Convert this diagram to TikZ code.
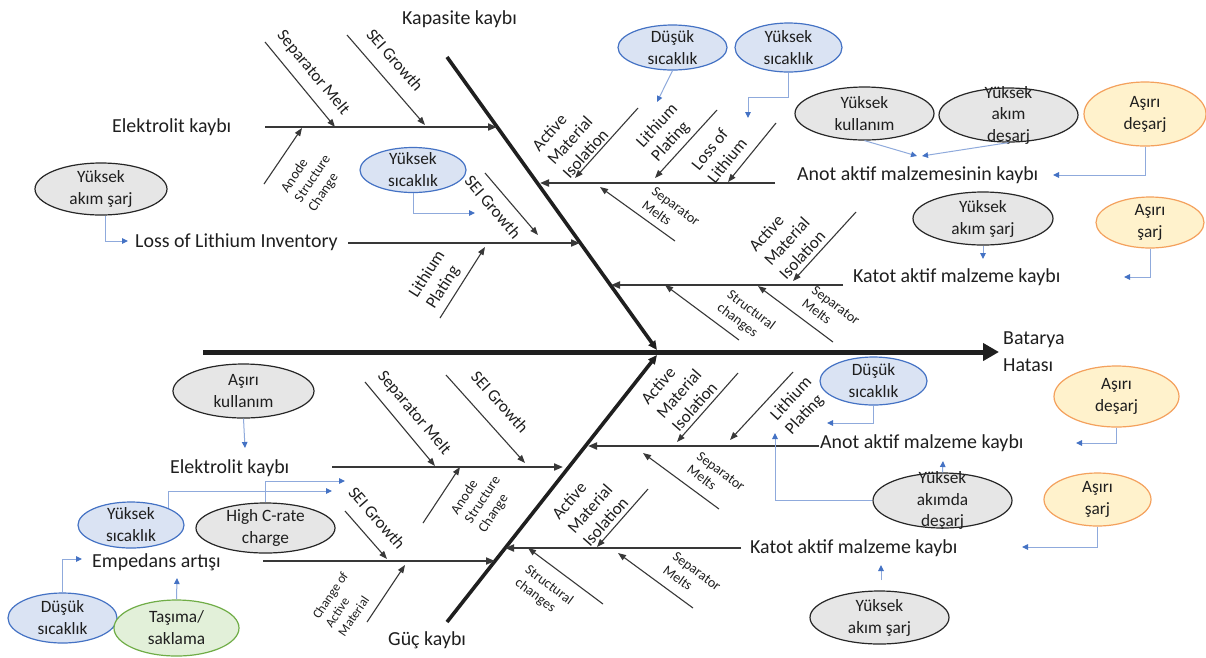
\documentclass[tikz,border=0pt]{standalone}
\usepackage{fontspec}
\setmainfont{Carlito}
\usetikzlibrary{arrows.meta,shapes.geometric}

\definecolor{ink}{HTML}{1F1F1F}
\definecolor{ribc}{HTML}{383838}
\definecolor{linkc}{HTML}{8FAADC}
\definecolor{linkhead}{HTML}{4472C4}
\definecolor{bluefill}{HTML}{DAE3F3}
\definecolor{blueline}{HTML}{4472C4}
\definecolor{grayfill}{HTML}{E6E6E6}
\definecolor{grayline}{HTML}{262626}
\definecolor{orfill}{HTML}{FFF2CC}
\definecolor{orline}{HTML}{F4A15D}
\definecolor{grfill}{HTML}{E2F0D9}
\definecolor{grline}{HTML}{70AD47}

\tikzset{
  head/.style={font=\fontsize{19.9}{27}\selectfont, inner sep=0pt, text=ink},
  cause/.style={font=\fontsize{17}{20.5}\selectfont, inner sep=0pt, align=left, text=ink},
  minor/.style={font=\fontsize{14}{16.5}\selectfont, inner sep=0pt, align=left, text=ink},
  tinytxt/.style={font=\fontsize{13}{15.5}\selectfont, inner sep=0pt, align=left, text=ink},
  spine/.style={line width=5pt, draw=ink, -{Triangle[length=16pt,width=17pt]}},
  bone/.style={line width=3.6pt, draw=ink, -{Triangle[length=9pt,width=8pt]}},
  rib/.style={line width=1.9pt, draw=ribc, -{Triangle[length=9pt,width=7pt]}},
  twig/.style={line width=1.1pt, draw=ribc, -{Triangle[length=8pt,width=6pt]}},
  link/.style={line width=1pt, draw=linkc, -{Triangle[length=6pt,width=5.5pt,color=linkhead]}},
  bubble/.style={ellipse, inner sep=0pt, line width=1.2pt},
  cool/.style={bubble, fill=bluefill, draw=blueline},
  plain/.style={bubble, fill=grayfill, draw=grayline},
  warm/.style={bubble, fill=orfill, draw=orline},
  calm/.style={bubble, fill=grfill, draw=grline},
  btxt/.style={font=\fontsize{17.3}{22}\selectfont, align=center, text=ink, inner sep=0pt},
}

\begin{document}
\begin{tikzpicture}[x=1pt, y=-1pt]
\fill[white] (0,0) rectangle (1206,657);
\useasboundingbox (0,0) rectangle (1206,657);

% ---------- spine and the two main bones ----------
\coordinate (tail) at (203,352);
\coordinate (head) at (999,352);
\draw[spine] (tail) -- (head);
\node[head, anchor=west, align=left] (fail) at (1003,352) {Batarya\\Hatası};

\coordinate (capTop) at (447,57);
\coordinate (capJoin) at (657,350);
\draw[bone] (capTop) -- (capJoin);
\node[head, anchor=base west] (cap) at (402,24) {Kapasite kaybı};

\coordinate (powBot) at (447,622);
\coordinate (powJoin) at (657,355);
\draw[bone] (powBot) -- (powJoin);
\node[head, anchor=base west] (pow) at (388,645) {Güç kaybı};

% ---------- ribs ----------
\coordinate (r1a) at (265,127); \coordinate (r1b) at (497,127);
\coordinate (r2a) at (348,243); \coordinate (r2b) at (580,243);
\coordinate (r3a) at (775,183); \coordinate (r3b) at (540,183);
\coordinate (r4a) at (843,285); \coordinate (r4b) at (611,285);
\coordinate (r5a) at (332,467); \coordinate (r5b) at (563,467);
\coordinate (r6a) at (263,561); \coordinate (r6b) at (495,561);
\coordinate (r7a) at (819,446); \coordinate (r7b) at (588,446);
\coordinate (r8a) at (741,548); \coordinate (r8b) at (505,548);
\foreach \r in {1,...,8} { \draw[rib] (r\r a) -- (r\r b); }

\node[head, anchor=base west] (elk1) at (112,132) {Elektrolit kaybı};
\node[head, anchor=base west] (loli) at (135,247) {Loss of Lithium Inventory};
\node[head, anchor=base west] (anot1) at (797,180) {Anot aktif malzemesinin kaybı};
\node[head, anchor=base west] (kat1) at (853,282) {Katot aktif malzeme kaybı};
\node[head, anchor=base west] (elk2) at (170,473) {Elektrolit kaybı};
\node[head, anchor=base west] (emp) at (92,567) {Empedans artışı};
\node[head, anchor=base west] (anot2) at (820,448) {Anot aktif malzeme kaybı};
\node[head, anchor=base west] (kat2) at (750,553) {Katot aktif malzeme kaybı};

% ---------- twigs (sub causes) ----------
\coordinate (t1a) at (265,42);  \coordinate (t1b) at (335,127);
\coordinate (t2a) at (347,35);  \coordinate (t2b) at (425,125);
\coordinate (t3a) at (264,184); \coordinate (t3b) at (302,128);
\coordinate (t4a) at (485,173); \coordinate (t4b) at (538,235);
\coordinate (t5a) at (440,318); \coordinate (t5b) at (485,247);
\coordinate (t6a) at (638,108); \coordinate (t6b) at (575,178);
\coordinate (t7a) at (717,110); \coordinate (t7b) at (655,178);
\coordinate (t8a) at (776,123); \coordinate (t8b) at (728,182);
\coordinate (t9a) at (675,241); \coordinate (t9b) at (600,187);
\coordinate (t10a) at (856,212); \coordinate (t10b) at (793,281);
\coordinate (t11a) at (739,340); \coordinate (t11b) at (665,285);
\coordinate (t12a) at (833,342); \coordinate (t12b) at (758,286);
\coordinate (t13a) at (365,382); \coordinate (t13b) at (435,466);
\coordinate (t14a) at (446,375); \coordinate (t14b) at (525,463);
\coordinate (t15a) at (423,523); \coordinate (t15b) at (460,467);
\coordinate (t16a) at (345,511); \coordinate (t16b) at (387,559);
\coordinate (t17a) at (367,622); \coordinate (t17b) at (405,565);
\coordinate (t18a) at (738,373); \coordinate (t18b) at (677,442);
\coordinate (t19a) at (793,372); \coordinate (t19b) at (730,440);
\coordinate (t20a) at (719,509); \coordinate (t20b) at (643,453);
\coordinate (t21a) at (648,489); \coordinate (t21b) at (597,547);
\coordinate (t22a) at (603,604); \coordinate (t22b) at (528,548);
\coordinate (t23a) at (693,608); \coordinate (t23b) at (618,553);
\foreach \t in {1,...,23} { \draw[twig] (t\t a) -- (t\t b); }

% upper left
\node[cause, rotate=-50.5] (lSM1) at (313,73) {Separator Melt};
\node[cause, rotate=-49] (lSEI1) at (395,60) {SEI Growth};
\node[minor, rotate=56] (lASC1) at (313,179) {Anode\\Structure\\Change};
\node[cause, rotate=-49.5] (lSEI2) at (493,207) {SEI Growth};
\node[cause, rotate=57.5] (lLP1) at (436,280) {Lithium\\Plating};
% upper right
\node[cause, rotate=48] (lAMI1) at (570,140) {Active\\Material\\Isolation};
\node[cause, rotate=47.5] (lLP2) at (665,133) {Lithium\\Plating};
\node[cause, rotate=51] (lLoL) at (719,154) {Loss of\\Lithium};
\node[minor, rotate=-36] (lSMs1) at (671,213) {Separator\\Melts};
\node[cause, rotate=47.5] (lAMI2) at (787,241) {Active\\Material\\Isolation};
\node[minor, rotate=-36.5] (lSC1) at (746,317) {Structural\\changes};
\node[minor, rotate=-36.5] (lSMs2) at (831,312) {Separator\\Melts};
% lower left
\node[cause, rotate=-50] (lSM2) at (414,413) {Separator Melt};
\node[cause, rotate=-48] (lSEI3) at (500,402) {SEI Growth};
\node[minor, rotate=56.5] (lASC2) at (483,500) {Anode\\Structure\\Change};
\node[cause, rotate=-49] (lSEI4) at (377,518) {SEI Growth};
\node[tinytxt, rotate=56] (lCAM) at (343,604) {Change of\\Active\\Material};
% lower right
\node[cause, rotate=48.5] (lAMI3) at (679,393) {Active\\Material\\Isolation};
\node[cause, rotate=47] (lLP3) at (799,406) {Lithium\\Plating};
\node[minor, rotate=-36.5] (lSMs3) at (716,478) {Separator\\Melts};
\node[cause, rotate=48.5] (lAMI4) at (590,508) {Active\\Material\\Isolation};
\node[minor, rotate=-36.5] (lSC2) at (544,592) {Structural\\changes};
\node[minor, rotate=-36] (lSMs4) at (692,578) {Separator\\Melts};

% ---------- condition bubbles ----------
\node[cool, minimum width=106pt, minimum height=45pt, label={[btxt]center:Yüksek\\sıcaklık}] (ysU) at (413,170) {};
\node[cool, minimum width=109pt, minimum height=45pt, label={[btxt]center:Düşük\\sıcaklık}] (dsU) at (672.5,47.5) {};
\node[cool, minimum width=107pt, minimum height=49pt, label={[btxt]center:Yüksek\\sıcaklık}] (ysR) at (788.5,47.5) {};
\node[plain, minimum width=139pt, minimum height=53pt, label={[btxt]center:Yüksek\\kullanım}] (yk) at (864.5,113.5) {};
\node[plain, minimum width=139pt, minimum height=54pt, label={[btxt, font=\fontsize{17.3}{21.5}\selectfont]center:Yüksek\\akım\\deşarj}] (yad1) at (1008.5,115) {};
\node[warm, minimum width=122pt, minimum height=64pt, label={[btxt]center:Aşırı\\deşarj}] (adU) at (1145,114) {};
\node[plain, minimum width=132pt, minimum height=52pt, label={[btxt]center:Yüksek\\akım şarj}] (yas1) at (101,189) {};
\node[plain, minimum width=140pt, minimum height=53pt, label={[btxt]center:Yüksek\\akım şarj}] (yas2) at (983,218.5) {};
\node[warm, minimum width=108pt, minimum height=51pt, label={[btxt]center:Aşırı\\şarj}] (asU) at (1150,222.5) {};

\node[plain, minimum width=141pt, minimum height=54pt, label={[btxt]center:Aşırı\\kullanım}] (ak) at (243.5,391) {};
\node[cool, minimum width=106pt, minimum height=46pt, label={[btxt]center:Yüksek\\sıcaklık}] (ysL) at (131,525) {};
\node[plain, minimum width=139pt, minimum height=50pt, label={[btxt]center:High C-rate\\charge}] (hc) at (265.5,528) {};
\node[cool, minimum width=109pt, minimum height=50pt, label={[btxt]center:Düşük\\sıcaklık}] (dsL) at (62.5,618) {};
\node[calm, minimum width=125pt, minimum height=56pt, label={[btxt]center:Taşıma/\\saklama}] (ts) at (176.5,628) {};
\node[cool, minimum width=107pt, minimum height=48pt, label={[btxt]center:Düşük\\sıcaklık}] (dsR) at (873.5,381) {};
\node[warm, minimum width=125pt, minimum height=61pt, label={[btxt]center:Aşırı\\deşarj}] (adR) at (1116.5,396.5) {};
\node[plain, minimum width=139pt, minimum height=55pt, label={[btxt, font=\fontsize{17.3}{21.5}\selectfont]center:Yüksek\\akımda\\deşarj}] (yad2) at (942.5,500.5) {};
\node[warm, minimum width=107pt, minimum height=53pt, label={[btxt]center:Aşırı\\şarj}] (asR) at (1097.5,499.5) {};
\node[plain, minimum width=139pt, minimum height=53pt, label={[btxt]center:Yüksek\\akım şarj}] (yas3) at (879.5,617.5) {};

% ---------- bubble links ----------
\coordinate (k1) at (475,213);
\coordinate (k2) at (657,102);
\coordinate (k3) at (748,118);
\coordinate (k4) at (917,156);
\coordinate (k5) at (922,156);
\coordinate (k6) at (1053,175);
\coordinate (k7) at (128,241);
\coordinate (k8) at (983,259);
\coordinate (k9) at (1124,277);
\coordinate (k10) at (245,448);
\coordinate (k11) at (332,491);
\coordinate (k12) at (345,481);
\coordinate (k13) at (82,559);
\coordinate (k14) at (177,578);
\coordinate (k15) at (827,423);
\coordinate (k16) at (1076,443);
\coordinate (k17) at (943,461);
\coordinate (k18) at (775,433);
\coordinate (k19) at (1022,547);
\coordinate (k20a) at (881,580);
\coordinate (k20b) at (881,565);

\draw[link] (ysU.south) |- (k1);
\draw[link] (dsU.south) -- (k2);
\draw[link] (ysR.south) -- ++(0,25) -| (k3);
\draw[link] (yk.south) -- (k4);
\draw[link] (yad1.south) -- (k5);
\draw[link] (adU.south) |- (k6);
\draw[link] ([xshift=4pt]yas1.south) |- (k7);
\draw[link] (yas2.south) -- (k8);
\draw[link] (asU.south) |- (k9);
\draw[link] (ak.south) -- (k10);
\draw[link] (ysL.north east) |- (k11);
\draw[link] (hc.north) |- (k12);
\draw[link] (dsL.north) |- (k13);
\draw[link] (ts.north) -- (k14);
\draw[link] (dsR.south) |- (k15);
\draw[link] (adR.south) |- (k16);
\draw[link] (yad2.north) -- (k17);
\draw[link] (yad2.west) -| (k18);
\draw[link] (asR.south) |- (k19);
\draw[link] (k20a) -- (k20b);
\end{tikzpicture}
\end{document}
